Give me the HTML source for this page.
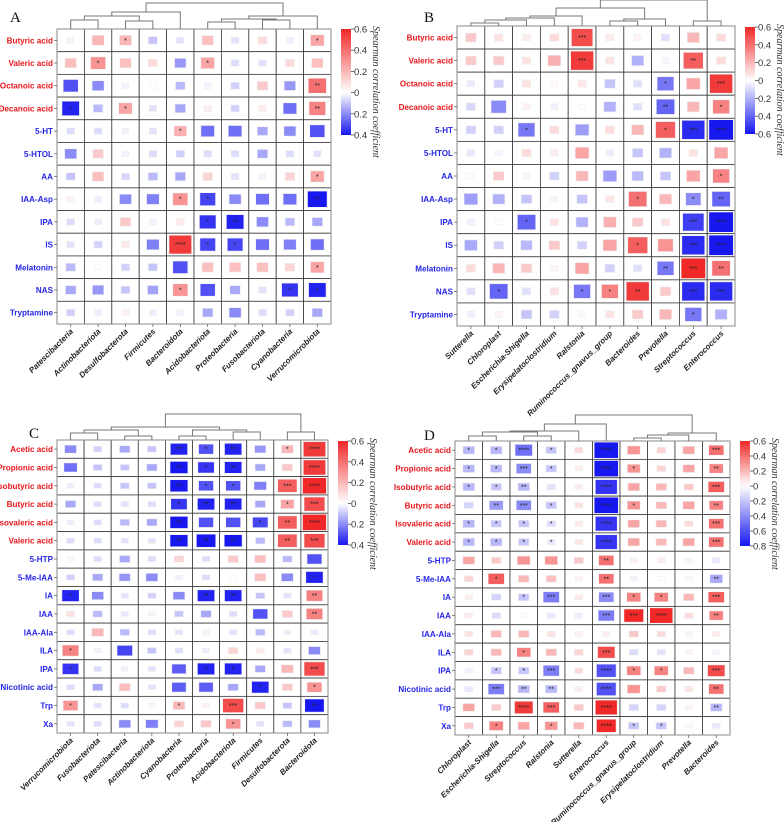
<!DOCTYPE html>
<html><head><meta charset="utf-8">
<style>
html,body{margin:0;padding:0;background:#fff;}
svg{display:block;}
</style></head>
<body>
<svg id="fig" width="784" height="822" viewBox="0 0 784 822" xmlns="http://www.w3.org/2000/svg"></svg>
<script>
// ---------- DATA ----------
const aRows = ["Butyric acid","Valeric acid","Octanoic acid","Decanoic acid","5-HT","5-HTOL","AA","IAA-Asp","IPA","IS","Melatonin","NAS","Tryptamine"];
const aCols = ["Patescibacteria","Actinobacteriota","Desulfobacterota","Firmicutes","Bacteroidota","Acidobacteriota","Proteobacteria","Fusobacteriota","Cyanobacteria","Verrucomicrobiota"];
const aVals = [
[-0.02,0.2,0.2,-0.1,-0.05,0.18,-0.05,0.1,-0.03,0.25],
[0.18,0.3,0.18,0.1,-0.18,0.25,-0.06,-0.05,0.1,0.18],
[-0.3,-0.2,-0.02,0,-0.12,-0.02,-0.08,0.15,-0.18,0.4],
[-0.38,-0.12,0.25,-0.05,-0.15,0.05,-0.08,0.05,-0.25,0.35],
[-0.06,-0.06,-0.02,-0.05,0.22,-0.25,-0.25,-0.15,-0.2,-0.3],
[-0.2,0.15,-0.02,-0.06,-0.08,-0.06,-0.06,-0.15,-0.06,-0.05],
[-0.1,0.18,-0.07,-0.12,-0.15,0.12,-0.05,-0.02,0.12,0.25],
[0.03,-0.03,-0.2,-0.22,0.3,-0.32,-0.2,-0.25,-0.25,-0.45],
[-0.06,-0.03,0.15,-0.02,0.06,-0.35,-0.38,-0.2,-0.12,-0.15],
[-0.05,-0.08,0.06,-0.22,0.55,-0.32,-0.32,-0.25,-0.22,-0.25],
[-0.12,0,-0.08,-0.1,-0.3,0.18,0.18,0.18,0.12,0.25],
[-0.15,-0.18,-0.1,-0.16,0.3,-0.3,-0.15,-0.05,-0.35,-0.38],
[-0.08,-0.03,0.04,-0.03,-0.02,-0.15,-0.2,-0.06,-0.08,-0.15]];
const aStars = ["0010000001","0100010000","0000000002","1010000002","0000100000","0000000000","0000000001","0000110002","0000012000","0000411000","0000000001","0000100011","0000000000"];
const aTicks = [0.6,0.4,0.2,0,-0.2,-0.4];
const aDendro = [[0,1,9],[2,3,8],[10,11,13],[12,4,17],[5,6,7],[7,8,9],[14,15,10],[16,9,13],[13,17,26]];

const bRows = aRows;
const bCols = ["Sutterella","Chloroplast","Escherichia-Shigella","Erysipelatoclostridium","Ralstonia","Ruminococcus_gnavus_group","Bacteroides","Prevotella","Streptococcus","Enterococcus"];
const bVals = [
[0.15,0.08,0.05,0.1,0.5,0.06,0.03,-0.08,0.2,0.1],
[0.15,0.15,0.08,0.22,0.55,0.08,-0.2,-0.02,0.45,0.1],
[-0.05,-0.12,0.08,0.02,0.07,-0.15,-0.08,-0.35,0.25,0.55],
[-0.1,-0.3,0.04,-0.03,0,-0.2,-0.08,-0.4,0.2,0.35],
[-0.12,-0.12,-0.35,0.1,-0.25,0.1,0.2,0.45,-0.55,-0.65],
[-0.06,-0.02,0.1,0.05,0.25,-0.05,-0.15,-0.2,0.08,0.25],
[0,0.15,-0.02,-0.12,0.2,-0.25,-0.18,-0.15,0.25,0.35],
[-0.25,-0.2,-0.15,-0.02,-0.15,0.07,0.4,0.2,-0.3,-0.4],
[-0.04,0,-0.4,0.08,-0.2,0.22,0.15,0.08,-0.5,-0.6],
[-0.22,-0.12,-0.18,0.15,-0.12,0.25,0.45,0.3,-0.55,-0.75],
[0.1,0.2,0.15,0.03,0.25,-0.12,-0.08,-0.35,0.6,0.4],
[-0.08,-0.4,-0.08,0.08,-0.35,0.35,0.55,0.15,-0.55,-0.55],
[-0.04,0.03,-0.15,-0.12,0.01,0.08,0.15,0.2,-0.35,-0.2]];
const bStars = ["0000300000","0000300020","0000000103","0000000201","0010000134","0000000000","0000000001","0000001012","0010000034","0000001034","0000000232","0100112033","0000000010"];
const bTicks = [0.6,0.4,0.2,0,-0.2,-0.4,-0.6];
const bDendro = [[0,1,3],[10,2,6],[11,3,8],[12,4,10],[5,6,5],[14,7,7],[13,15,18],[8,9,5],[16,17,26]];

const cRows = ["Acetic acid","Propionic acid","Isobutyric acid","Butyric acid","Isovaleric acid","Valeric acid","5-HTP","5-Me-IAA","IA","IAA","IAA-Ala","ILA","IPA","Nicotinic acid","Trp","Xa"];
const cCols = ["Verrucomicrobiota","Fusobacteriota","Patescibacteria","Actinobacteriota","Cyanobacteria","Proteobacteria","Acidobacteriota","Firmicutes","Desulfobacterota","Bacteroidota"];
const cVals = [
[-0.2,-0.08,-0.15,-0.1,-0.38,-0.3,-0.38,-0.18,0.2,0.55],
[-0.25,-0.1,-0.1,-0.15,-0.4,-0.35,-0.38,-0.15,0.15,0.55],
[-0.03,-0.06,-0.1,-0.1,-0.4,-0.3,-0.3,-0.22,0.45,0.6],
[-0.15,-0.06,-0.05,-0.06,-0.35,-0.38,-0.38,-0.15,0.25,0.5],
[-0.03,-0.06,-0.12,-0.15,-0.4,-0.3,-0.3,-0.32,0.45,0.6],
[-0.06,-0.06,-0.05,-0.05,-0.4,-0.45,-0.4,-0.12,0.45,0.5],
[0.02,-0.06,-0.15,-0.06,0.12,-0.06,0.15,0.18,-0.12,-0.3],
[-0.08,-0.15,-0.18,-0.2,-0.02,-0.06,0,0.18,-0.2,-0.38],
[-0.38,-0.2,-0.05,-0.08,-0.2,-0.38,-0.38,-0.1,-0.05,0.35],
[0.08,-0.12,-0.04,-0.02,-0.1,-0.15,-0.06,-0.3,0.15,0.35],
[-0.06,0.2,-0.12,-0.06,-0.05,0.03,-0.05,-0.12,-0.03,-0.04],
[0.35,-0.02,-0.32,-0.1,-0.06,-0.03,0.12,0.06,-0.05,-0.2],
[-0.35,-0.06,-0.02,-0.05,-0.28,-0.38,-0.38,-0.15,0.2,0.5],
[-0.06,-0.15,0.18,-0.05,-0.28,-0.28,-0.15,-0.38,0.15,0.3],
[0.3,-0.05,-0.06,0.03,0.2,0.04,0.5,0.15,-0.1,-0.45],
[-0.05,-0.06,-0.2,-0.22,0.12,0.15,0.3,-0.05,-0.12,-0.2]];
const cStars = ["0000212014","0000212004","0000211034","0000122013","0000200124","0000222023","0000000000","0000000001","1000022002","0000000002","0000000000","1000000000","1000011003","0000000101","1000103002","0000001000"];
const cTicks = [0.6,0.4,0.2,0,-0.2,-0.4];
const cDendro = [[0,1,7],[2,3,4],[10,11,10],[4,5,4],[6,7,8],[13,14,10],[12,15,13],[8,9,8],[16,17,26]];

const dRows = cRows;
const dCols = ["Chloroplast","Escherichia-Shigella","Streptococcus","Ralstonia","Sutterella","Enterococcus","Ruminococcus_gnavus_group","Erysipelatoclostridium","Prevotella","Bacteroides"];
const dVals = [
[-0.25,-0.25,-0.5,-0.2,0.1,-0.85,0.3,0.12,0.25,0.4],
[-0.25,-0.25,-0.4,-0.2,0.05,-0.85,0.3,0.12,0.25,0.35],
[-0.25,-0.2,-0.25,-0.1,0.06,-0.7,0.25,0.2,0.15,0.45],
[-0.15,-0.35,-0.4,-0.2,0.08,-0.85,0.3,0.2,0.25,0.35],
[-0.25,-0.2,-0.2,-0.12,0.06,-0.7,0.25,0.2,0.1,0.4],
[-0.25,-0.25,-0.2,-0.08,0.07,-0.7,0.25,0.2,0.25,0.4],
[0.25,0.15,0.3,0.3,0.15,0.4,0.04,0.05,-0.04,-0.08],
[0.12,0.45,0.2,0.18,0.04,0.4,-0.04,0,0.02,-0.3],
[0.05,-0.15,-0.2,-0.45,0.06,-0.4,0.35,0.35,0.2,0.45],
[0.06,-0.12,0,-0.08,-0.06,-0.45,0.6,0.75,0.1,0.35],
[0.08,0.2,0.2,0.08,0.04,0.05,0.15,0.1,-0.03,0.06],
[0.12,0.2,0.35,0.2,0.12,0.5,-0.12,-0.1,0.03,-0.03],
[-0.05,-0.2,-0.2,-0.45,0.1,-0.6,0.35,0.35,0.2,0.5],
[-0.08,-0.45,-0.25,-0.25,0.05,-0.6,0.3,0.15,0.08,0.4],
[0.25,0.15,0.55,0.45,0.15,0.7,-0.15,-0.15,0.03,-0.25],
[0.15,0.35,0.25,0.3,0.2,0.6,-0.2,-0.2,0.02,-0.08]];
const dStars = ["1141040003","1131041002","1120040003","0231041002","1111040003","1111040003","0000020000","0100020002","0013031103","0000033402","0000000000","0010030000","0113041103","0322040002","0043040002","0101041100"];
const dTicks = [0.6,0.4,0.2,0,-0.2,-0.4,-0.6,-0.8];
const dDendro = [[0,1,5],[2,3,5],[10,11,9],[12,4,10],[13,5,17],[6,7,3],[15,8,6],[16,9,8],[14,17,26]];

// ---------- RENDER ----------
const NS = "http://www.w3.org/2000/svg";
const svg = document.getElementById("fig");
function mk(tag, attrs, parent){
  const e = document.createElementNS(NS, tag);
  for (const k in attrs) e.setAttribute(k, attrs[k]);
  (parent||svg).appendChild(e); return e;
}
function colorFor(v, vmax, vmin){
  let r,g,b;
  if (v >= 0){ const t = Math.min(1, v/vmax); r = Math.round(255 - t*15); g = Math.round(255 - t*215); b = Math.round(255 - t*215); }
  else { const t = Math.min(1, v/vmin); r = Math.round(255 - t*232); g = Math.round(255 - t*232); b = Math.round(255 - t*15); }
  return `rgb(${r},${g},${b})`;
}
const panels = [
 {id:"a", letter:"A", rows:aRows, cols:aCols, vals:aVals, stars:aStars, ticks:aTicks, dendro:aDendro, red:4, x0:57, x1:331, y0:29, y1:324, cb:[341,351,29,135], lx:10, ly:22},
 {id:"b", letter:"B", rows:bRows, cols:bCols, vals:bVals, stars:bStars, ticks:bTicks, dendro:bDendro, red:4, x0:457, x1:735, y0:26, y1:326, cb:[745,755,27,134], lx:424, ly:22},
 {id:"c", letter:"C", rows:cRows, cols:cCols, vals:cVals, stars:cStars, ticks:cTicks, dendro:cDendro, red:6, x0:57, x1:328, y0:440, y1:733, cb:[338,348,441,545], lx:29, ly:438},
 {id:"d", letter:"D", rows:dRows, cols:dCols, vals:dVals, stars:dStars, ticks:dTicks, dendro:dDendro, red:6, x0:455, x1:730, y0:441, y1:735, cb:[740,750,441,546], lx:424, ly:440}
];
panels.forEach(p=>{
  const g = mk("g",{});
  
  
  const nR = p.rows.length, nC = p.cols.length;
  const cw = (p.x1-p.x0)/nC, ch = (p.y1-p.y0)/nR;
  const vmax = p.ticks[0], vmin = p.ticks[p.ticks.length-1];
  const cx = j => p.x0 + (j+0.5)*cw;
  const cy = i => p.y0 + (i+0.5)*ch;
  const L = mk("text",{x:p.lx,y:p.ly,"font-family":"Liberation Serif, serif","font-size":15,fill:"#111"},g);
  L.textContent = p.letter;
  
  
  for (let i=0;i<nR;i++){
    for (let j=0;j<nC;j++){
      const v = p.vals[i][j];
      const cell = mk("rect",{x:p.x0+j*cw,y:p.y0+i*ch,width:cw,height:ch,fill:"#fff",stroke:"#3a3a3a","stroke-width":0.8},g);
      
      
      const f = Math.min(0.88, 0.22 + 0.66*Math.abs(v)/Math.max(vmax,-vmin));
      const w = cw*f, h = ch*f;
      const sq = mk("rect",{x:cx(j)-w/2,y:cy(i)-h/2,width:w,height:h,fill:colorFor(v,vmax,vmin),stroke:"#eee","stroke-width":0.6},g);
      
      
      const n = parseInt(p.stars[i][j]);
      if (n>0){
        const s = mk("text",{x:cx(j),y:cy(i)+2.5,"text-anchor":"middle","font-family":"Liberation Sans, sans-serif","font-size":7,fill:"#222"},g);
        s.textContent = "*".repeat(n);
        
        
      }
    }
  }
  mk("rect",{x:p.x0,y:p.y0,width:p.x1-p.x0,height:p.y1-p.y0,fill:"none",stroke:"#888","stroke-width":1},g);
  p.rows.forEach((r,i)=>{
    mk("line",{x1:p.x0-3,x2:p.x0,y1:cy(i),y2:cy(i),stroke:"#555","stroke-width":0.7},g);
    const t = mk("text",{x:p.x0-4,y:cy(i)+3,"text-anchor":"end","font-family":"Liberation Sans, sans-serif","font-size":8.1,"font-weight":"bold",fill:i<p.red?"#e8161c":"#2525e6"},g);
    t.textContent = r;
    
    
  });
  p.cols.forEach((c,j)=>{
    mk("line",{x1:cx(j),x2:cx(j),y1:p.y1,y2:p.y1+3,stroke:"#555","stroke-width":0.7},g);
    const yy = p.y1+8;
    const t = mk("text",{x:cx(j)+3,y:yy,"text-anchor":"end","font-family":"Liberation Sans, sans-serif","font-size":8,"font-weight":"bold","font-style":"italic",fill:"#222",transform:`rotate(-45 ${cx(j)+3} ${yy})`},g);
    t.textContent = c;
    
    
  });
  const pos = [], hts = [];
  for (let j=0;j<nC;j++){ pos.push(cx(j)); hts.push(0); }
  p.dendro.forEach(m=>{
    const [a,b,h] = m;
    const y = p.y0 - h;
    const path = `M${pos[a]},${p.y0-hts[a]}V${y}H${pos[b]}V${p.y0-hts[b]}`;
    const d = mk("path",{d:path,fill:"none",stroke:"#777","stroke-width":1},g);
    
    
    pos.push((pos[a]+pos[b])/2); hts.push(h);
  });
  const [bx0,bx1,by0,by1] = p.cb;
  const gid = "grad"+p.id;
  const defs = mk("defs",{},g);
  const lg = mk("linearGradient",{id:gid,x1:0,y1:0,x2:0,y2:1},defs);
  const N = 20;
  for (let k=0;k<=N;k++){
    const v = vmax + (vmin-vmax)*k/N;
    mk("stop",{offset:(k/N*100)+"%","stop-color":colorFor(v,vmax,vmin)},lg);
  }
  const cb = mk("rect",{x:bx0,y:by0,width:bx1-bx0,height:by1-by0,fill:`url(#${gid})`},g);
  
  
  p.ticks.forEach(tv=>{
    const y = by0 + (vmax - tv)/(vmax - vmin)*(by1-by0);
    mk("line",{x1:bx1,x2:bx1+3,y1:y,y2:y,stroke:"#333","stroke-width":0.7},g);
    const t = mk("text",{x:bx1+3,y:y+3.5,"font-family":"Liberation Sans, sans-serif","font-size":9.5,fill:"#333"},g);
    t.textContent = (tv===0?"0":tv.toFixed(1).replace("-",""));
    
    
  });
  const tx = bx1+22, ty = by0-3;
  const tt = mk("text",{x:tx,y:ty,"font-family":"Liberation Serif, serif","font-size":10,"font-style":"italic",fill:"#333",transform:`rotate(90 ${tx} ${ty})`},g);
  tt.textContent = "Spearman correlation coefficient";
  
  
});
</script>
</body></html>
